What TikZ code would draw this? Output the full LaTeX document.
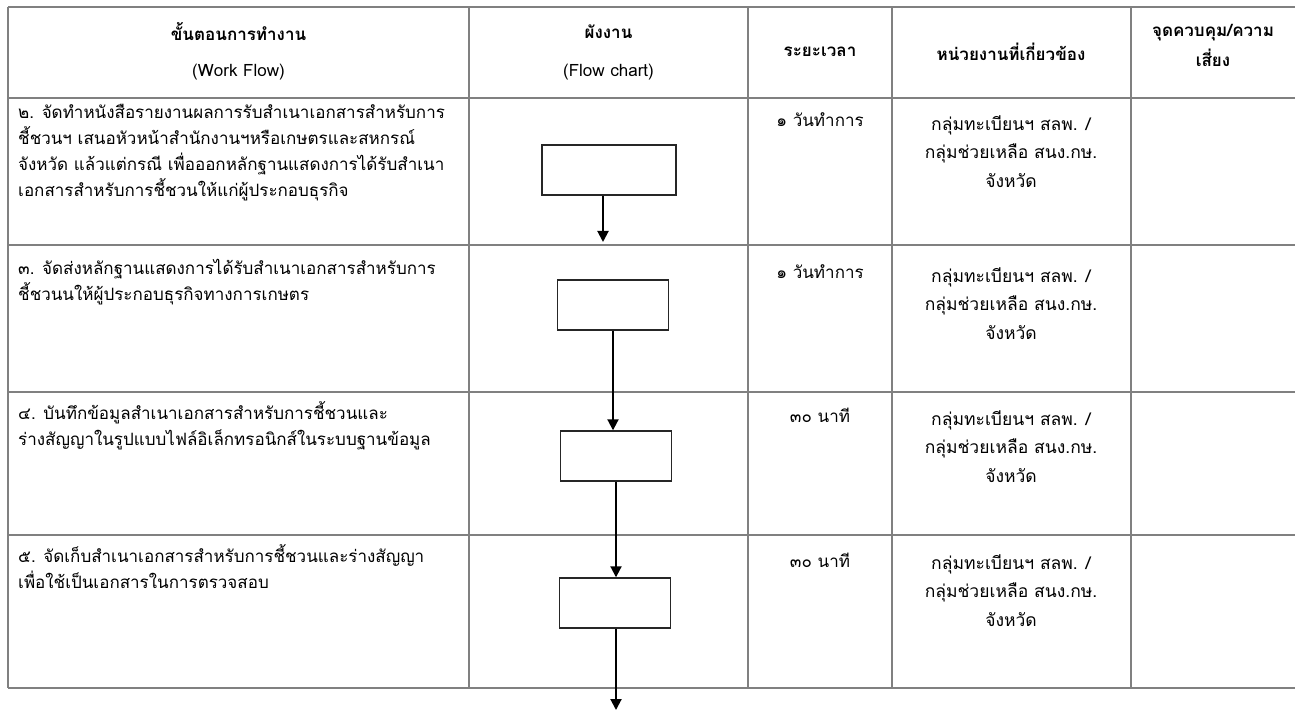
\documentclass[tikz,border=0pt]{standalone}
\usepackage{fontspec}
\setmainfont[Script=Thai]{Loma}
\usetikzlibrary{arrows.meta}
\begin{document}
\begin{tikzpicture}[x=1pt,y=-1pt,
  grid/.style={draw=black!50,line width=1.4pt},
  stepbox/.style={draw=black!85,line width=1.4pt,rectangle,minimum width=111pt,minimum height=50pt,inner sep=0pt},
  flow/.style={draw=black,line width=2pt,-{Triangle[width=11pt,length=11pt]}},
  txt/.style={font=\fontsize{17}{26}\selectfont,inner sep=0pt,align=left},
  ctxt/.style={font=\fontsize{17.5}{28.5}\selectfont,inner sep=0pt,align=center},
  hd/.style={font=\fontsize{17}{26}\selectfont,inner sep=0pt,align=center},
  hdb/.style={hd,font=\fontsize{17}{26}\selectfont\bfseries}]
\useasboundingbox[fill=white] (0,0) rectangle (1295,711);

% table rules
\foreach \y in {7,98,245,392,535,688} \draw[grid] (8,\y) -- (1295,\y);
\foreach \x in {8,469,748,892,1131} \draw[grid] (\x,7) -- (\x,688);

% header
\node[hdb] (h1a) at (238.5,32) {ขั้นตอนการทำงาน};
\node[hd] (h1b) at (238.5,72) {(Work Flow)};
\node[hdb] (h2a) at (608.5,32) {ผังงาน};
\node[hd] (h2b) at (608.5,72) {(Flow chart)};
\node[hdb] (h3) at (820,52) {ระยะเวลา};
\node[hdb] (h4) at (1011,52) {หน่วยงานที่เกี่ยวข้อง};
\node[hdb] (h5a) at (1213,33) {จุดควบคุม/ความ};
\node[hdb] (h5b) at (1213,58) {เสี่ยง};

% work-flow descriptions
\node[txt,anchor=north west] (s2) at (18,104) {๒. จัดทำหนังสือรายงานผลการรับสำเนาเอกสารสำหรับการ\\ชี้ชวนฯ เสนอหัวหน้าสำนักงานฯหรือเกษตรและสหกรณ์\\จังหวัด แล้วแต่กรณี เพื่อออกหลักฐานแสดงการได้รับสำเนา\\เอกสารสำหรับการชี้ชวนให้แก่ผู้ประกอบธุรกิจ};
\node[txt,anchor=north west] (s3) at (18,259) {๓. จัดส่งหลักฐานแสดงการได้รับสำเนาเอกสารสำหรับการ\\ชี้ชวนนให้ผู้ประกอบธุรกิจทางการเกษตร};
\node[txt,anchor=north west] (s4) at (18,401) {๔. บันทึกข้อมูลสำเนาเอกสารสำหรับการชี้ชวนและ\\ร่างสัญญาในรูปแบบไฟล์อิเล็กทรอนิกส์ในระบบฐานข้อมูล};
\node[txt,anchor=north west] (s5) at (18,544) {๕. จัดเก็บสำเนาเอกสารสำหรับการชี้ชวนและร่างสัญญา\\เพื่อใช้เป็นเอกสารในการตรวจสอบ};

% durations
\node[hd] (t2) at (820,120) {๑ วันทำการ};
\node[hd] (t3) at (820,272) {๑ วันทำการ};
\node[hd] (t4) at (820,415) {๓๐ นาที};
\node[hd] (t5) at (820,560) {๓๐ นาที};

% responsible units
\foreach \n/\y in {u2/123,u3/275,u4/418,u5/562}
  \node[ctxt,anchor=center] (\n) at (1011,\y+28.5) {กลุ่มทะเบียนฯ สลพ. /\\กลุ่มช่วยเหลือ สนง.กษ.\\จังหวัด};

% flow chart
\node[stepbox,minimum width=134pt] (b1) at (609,170) {};
\node[stepbox] (b2) at (613,305) {};
\node[stepbox] (b3) at (616,456) {};
\node[stepbox] (b4) at (615,603) {};
\coordinate (e1) at (603,242);
\coordinate (e4) at (616,710);

\draw[flow] (b1.south -| e1) -- (e1);
\draw[flow] (b2.south) -- (b2.south |- b3.north);
\draw[flow] (b3.south) -- (b4.north -| b3.south);
\draw[flow] (b4.south -| e4) -- (e4);
\end{tikzpicture}
\end{document}
